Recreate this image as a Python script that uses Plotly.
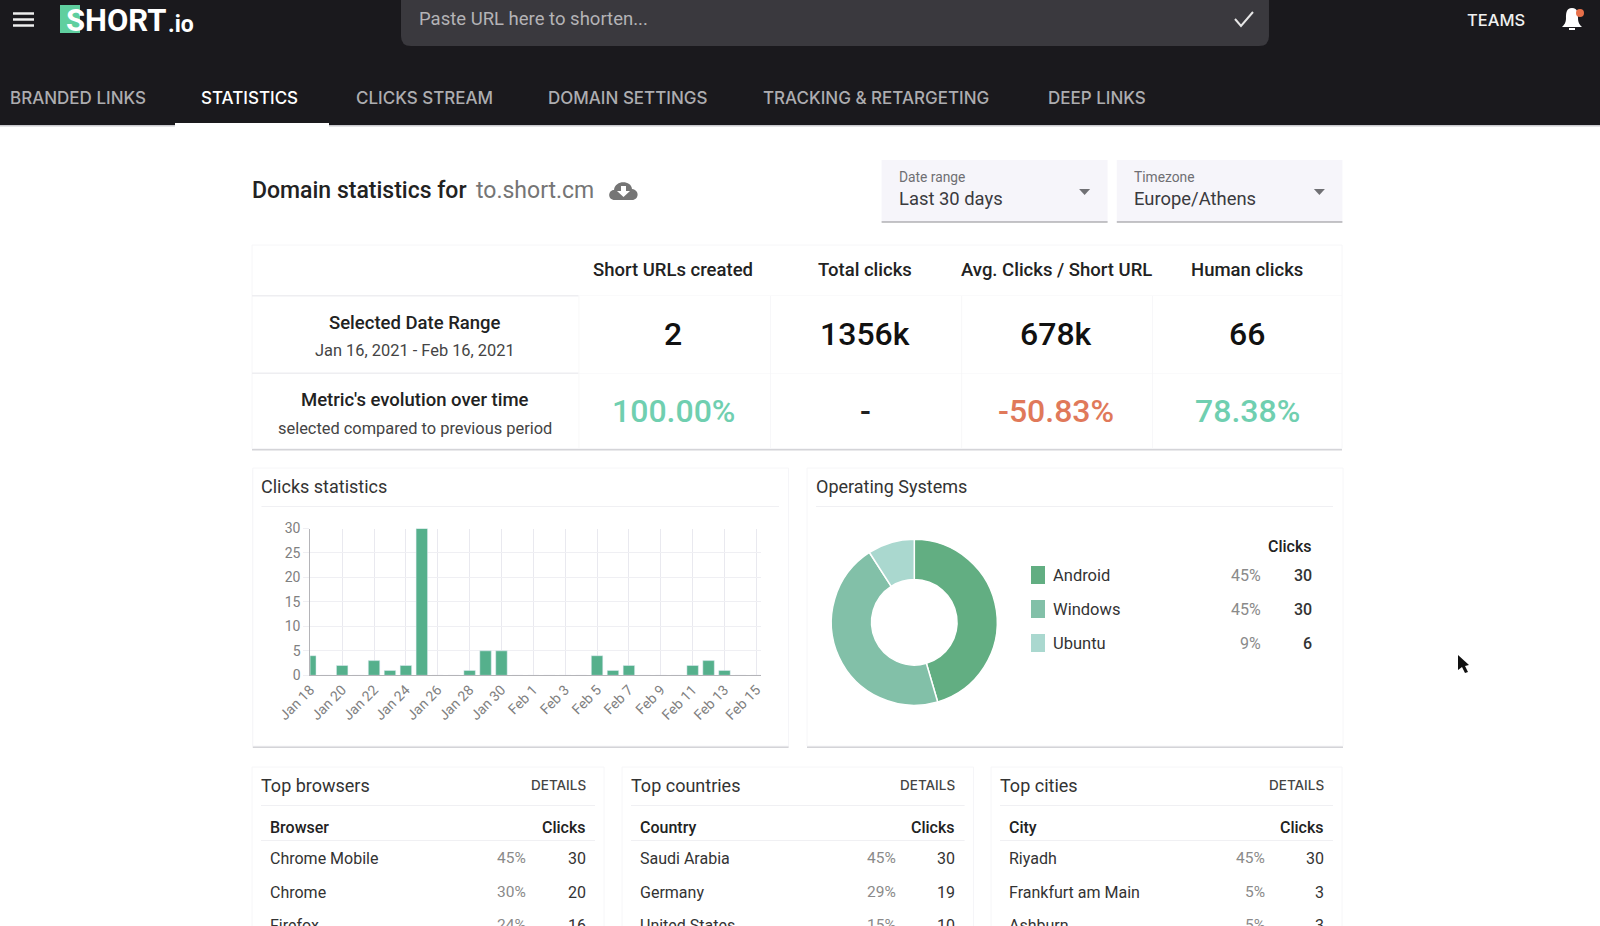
import pandas as pd
import plotly.graph_objects as go

W = 1600
H = 926
FONT = "Roboto"

# data
days = pd.date_range("2021-01-18", "2021-02-15")
clicks = [4, 0, 2, 0, 3, 1, 2, 30, 0, 0, 1, 5, 5, 0, 0,
          0, 0, 0, 4, 1, 2, 0, 0, 0, 2, 3, 1, 0, 0]

os_names = ["Android", "Windows", "Ubuntu"]
os_clicks = [30, 30, 6]
os_pct = ["45%", "45%", "9%"]
os_colors = ["#62ae82", "#82c0a8", "#aad8cf"]

tabs = ["BRANDED LINKS", "STATISTICS", "CLICKS STREAM", "DOMAIN SETTINGS", "TRACKING & RETARGETING", "DEEP LINKS"]

metric_names = ["Short URLs created", "Total clicks", "Avg. Clicks / Short URL", "Human clicks"]
metric_values = ["2", "1356k", "678k", "66"]
metric_changes = ["100.00%", "-", "-50.83%", "78.38%"]

browser_names = ["Chrome Mobile", "Chrome", "Firefox"]
browser_pct = ["45%", "30%", "24%"]
browser_clicks = ["30", "20", "16"]

country_names = ["Saudi Arabia", "Germany", "United States"]
country_pct = ["45%", "29%", "15%"]
country_clicks = ["30", "19", "10"]

city_names = ["Riyadh", "Frankfurt am Main", "Ashburn"]
city_pct = ["45%", "5%", "5%"]
city_clicks = ["30", "3", "3"]


def path(d):
    # pixel path string -> paper coords
    out = []
    is_x = True
    for tok in d.split():
        if tok.isalpha():
            out.append(tok)
            is_x = True
        else:
            val = float(tok)
            out.append(f"{val / W:.5f}" if is_x else f"{1 - val / H:.5f}")
            is_x = not is_x
    return " ".join(out)


shapes = []
notes = []


def rect(x0, y0, x1, y1, fill, line=None, layer="below"):
    shapes.append(dict(type="rect", xref="paper", yref="paper", x0=x0 / W, x1=x1 / W,
                       y0=1 - y0 / H, y1=1 - y1 / H, fillcolor=fill, layer=layer,
                       line=dict(color=line or fill, width=1 if line else 0)))


def shape_path(d, fill=None, line=None, width=0, layer="above"):
    shapes.append(dict(type="path", xref="paper", yref="paper", path=path(d), layer=layer,
                       fillcolor=fill or "rgba(0,0,0,0)",
                       line=dict(color=line or "rgba(0,0,0,0)", width=width)))


def text(x, y, s, size=16, color="#333333", anchor="left", weight=400, font=FONT):
    notes.append(dict(xref="paper", yref="paper", x=x / W, y=1 - y / H, text=s, showarrow=False,
                      xanchor=anchor, yanchor="middle", borderpad=0,
                      font=dict(family=font, size=size, color=color, weight=weight)))


def card(x0, y0, x1, y1):
    rect(x0, y0 + 2, x1, y1 + 2, "#d4d4d8")
    rect(x0, y0, x1, y1, "#ffffff", line="#f6f6f8")


# header
rect(0, 0, W, 125, "#1a191d")
rect(0, 125, W, 126.5, "#c9c9ce")
rect(175, 123, 329, 127, "#ffffff")
shape_path("M 401 0 L 401 36 Q 401 46 411 46 L 1259 46 Q 1269 46 1269 36 L 1269 0 Z", fill="#3a393e")
text(417.5, 19, "Paste URL here to shorten...", size=18.5, color="#b4b3b6")
shape_path("M 1235 19 L 1241 26 L 1253 12", line="#e6e6e6", width=2)
for y in [13.5, 19.5, 25.5]:
    shape_path(f"M 13 {y} L 34 {y}", line="#eeeeee", width=2.5)

# logo
rect(60, 5, 80, 33, "#5fcf9f", layer="above")
text(65, 20, "SHORT", size=31, color="#ffffff", weight=700)
text(166.5, 24, ".io", size=23, color="#ffffff", weight=700)

text(1466, 20, "TEAMS", size=16.5, color="#f0f0f0", weight=500, font="Inter")
shape_path("M 1572 8 C 1566 8 1566 14 1566 18 C 1566 23 1564 25 1562 27 L 1582 27 C 1580 25 1578 23 1578 18 "
           "C 1578 14 1578 8 1572 8 Z", fill="#ffffff")
shape_path("M 1569 28 L 1575 28 L 1575 30 L 1569 30 Z", fill="#ffffff")
shapes.append(dict(type="circle", xref="paper", yref="paper", x0=1576 / W, x1=1584 / W,
                   y0=1 - 9 / H, y1=1 - 17 / H, fillcolor="#e8704a", line=dict(width=0)))

tab_x = [9, 200, 354.5, 547, 762, 1046.5]
for i, (x, name) in enumerate(zip(tab_x, tabs)):
    text(x, 98.5, name, size=17, weight=500, color="#ffffff" if i == 1 else "#adadb0", font="Inter")

# title row
text(250.5, 190.5, "Domain statistics for", size=23, color="#222222", weight=500)
text(475, 190.5, "to.short.cm", size=23, color="#757575")
shape_path("M 615 200 C 607 200 608 190 614 190 C 615 180 631 180 632 189 C 640 190 639 200 632 200 Z", fill="#757575")
shape_path("M 621 186 L 626 186 L 626 191 L 630 191 L 623.5 197 L 617 191 L 621 191 Z", fill="#ffffff")

for x0, x1, label, value in [(881.6, 1107.6, "Date range", "Last 30 days"), (1116.8, 1342.4, "Timezone", "Europe/Athens")]:
    rect(x0, 160, x1, 222, "#f6f5fa")
    rect(x0, 221.5, x1, 222.5, "#8c8c90")
    text(x0 + 16, 176.5, label, size=13.8, color="#6f6f73")
    text(x0 + 16, 198, value, size=18.4, color="#3a3a3e")
    c = x1 - 23
    shape_path(f"M {c - 5.5} 189 L {c + 5.5} 189 L {c} 195 Z", fill="#707074")

# metrics table
card(252, 245, 1342, 448.5)
rect(252, 295, 578.6, 296.5, "#eeeef1")
rect(578.6, 295.5, 1342, 296, "#f5f5f7")
rect(252, 372.5, 578.6, 374, "#eeeef1")
rect(578.6, 373, 1342, 373.5, "#f5f5f7")
for x in [578.6, 770, 961.4, 1152]:
    rect(x, 296, x + 0.7, 448, "#f4f4f6")

metric_x = [673, 865, 1056, 1247]
change_colors = ["#70cfb0", "#222222", "#e0795a", "#70cfb0"]
for i, x in enumerate(metric_x):
    text(x, 270, metric_names[i], size=18.5, color="#222222", anchor="center", weight=500)
    text(x, 334, metric_values[i], size=32, color="#111111", anchor="center", weight=500)
    text(x, 411, metric_changes[i], size=32, color=change_colors[i], anchor="center", weight=500)
text(414.6, 323, "Selected Date Range", size=18.5, color="#222222", anchor="center", weight=500)
text(414.6, 350.5, "Jan 16, 2021 - Feb 16, 2021", size=16.4, color="#444444", anchor="center")
text(414.6, 400, "Metric's evolution over time", size=18.5, color="#222222", anchor="center", weight=500)
text(414.6, 428, "selected compared to previous period", size=16.4, color="#444444", anchor="center")

# chart cards
card(252.8, 468, 788.6, 746)
rect(261.5, 506, 779, 507, "#f0f0f3")
text(260, 486, "Clicks statistics", size=18)
card(807, 468, 1343, 746)
rect(816, 506, 1333, 507, "#f0f0f3")
text(815, 486, "Operating Systems", size=18)

text(1312.5, 546, "Clicks", anchor="right", weight=500, color="#222222")
for i, y in enumerate([575, 609, 643]):
    rect(1031, y - 9, 1045, y + 9, os_colors[i])
    text(1052, y, os_names[i], size=16.5)
    text(1261.5, y, os_pct[i], size=16, color="#8a8a8a", anchor="right")
    text(1312.5, y, str(os_clicks[i]), size=16, anchor="right", weight=500)

# bottom cards
bottom_cards = [
    (252, 604, "Top browsers", "Browser", browser_names, browser_pct, browser_clicks, 526.7),
    (622, 973.6, "Top countries", "Country", country_names, country_pct, country_clicks, 896.7),
    (991, 1342, "Top cities", "City", city_names, city_pct, city_clicks, 1266),
]
for x0, x1, title, col, names, pcts, vals, pct_x in bottom_cards:
    right = x1 - 17.5
    card(x0, 767, x1, 940)
    text(x0 + 8, 785, title, size=18)
    text(right, 784.5, "DETAILS", size=13.5, color="#444444", anchor="right", weight=500, font="Inter")
    rect(x0 + 9, 805, x1 - 9, 806, "#f0f0f3")
    text(x0 + 17, 827.7, col, size=16, color="#222222", weight=500)
    text(right, 827.7, "Clicks", size=16, color="#222222", anchor="right", weight=500)
    rect(x0 + 9, 840, x1 - 9, 841, "#f0f0f3")
    for name, pct, val, y in zip(names, pcts, vals, [858, 892, 925]):
        text(x0 + 17, y, name, size=16)
        text(pct_x, y, pct, size=15.5, color="#8a8a8a", anchor="right")
        text(right, y, val, size=16, anchor="right")

# mouse pointer
shape_path("M 1458 655 L 1458 670 L 1462 667 L 1465 673 L 1468 672 L 1465 666 L 1469 665 Z", fill="#111111")

fig = go.Figure()
fig.add_trace(go.Bar(x=days, y=clicks, width=0.72 * 86400000, marker=dict(color="#55b08c"), showlegend=False))
fig.add_trace(go.Pie(labels=os_names, values=os_clicks, hole=0.515, sort=False, direction="clockwise", rotation=0,
                     marker=dict(colors=os_colors, line=dict(color="#ffffff", width=1.5)),
                     textinfo="none", showlegend=False,
                     domain=dict(x=[(914.3 - 83) / W, (914.3 + 83) / W], y=[1 - (622.3 + 83) / H, 1 - (622.3 - 83) / H])))

fig.update_layout(
    width=W,
    height=H,
    margin=dict(l=0, r=0, t=0, b=0),
    paper_bgcolor="#ffffff",
    plot_bgcolor="#ffffff",
    showlegend=False,
    shapes=shapes,
    annotations=notes,
    font=dict(family=FONT),
    xaxis=dict(
        automargin=False,
        domain=[310.3 / W, 761 / W],
        type="date",
        range=["2021-01-18", "2021-02-15 07:00"],
        tick0="2021-01-18",
        dtick=172800000,
        tickformat="%b %-d",
        tickangle=-45,
        tickfont=dict(size=14, color="#808080"),
        gridcolor="#e9e9ef",
        showline=True,
        linecolor="#b4b4b8",
        ticks="",
    ),
    yaxis=dict(
        automargin=False,
        domain=[1 - 675.3 / H, 1 - 528.5 / H],
        range=[0, 30],
        dtick=5,
        tickfont=dict(size=14, color="#808080"),
        gridcolor="#efeff3",
        zeroline=False,
        showline=True,
        linecolor="#b4b4b8",
        ticks="outside",
        ticklen=6,
        tickcolor="#efeff3",
    ),
)

# page body has an 8px default margin
fig.write_html("out.html", config={"displayModeBar": False}, post_script="document.body.style.margin='0'")
